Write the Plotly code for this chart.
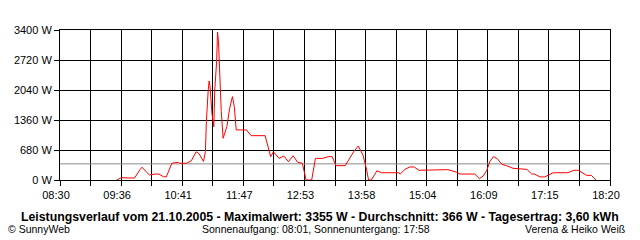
import plotly.graph_objects as go

# ---- data ----
times = ["09:31","09:36","09:43","09:50","09:56","09:58","10:03","10:06","10:12","10:16",
         "10:21","10:24","10:30","10:37","10:38","10:46","10:51","10:56","10:59","11:03",
         "11:04","11:06","11:07","11:09","11:10","11:11","11:12","11:13","11:15","11:16",
         "11:18","11:19","11:20","11:22","11:23","11:25","11:27","11:29","11:32","11:35",
         "11:37","11:39","11:50","11:55","12:10","12:13","12:16","12:19","12:25","12:30",
         "12:35","12:40","12:45","12:50","12:54","13:00","13:04","13:12","13:18","13:22",
         "13:26","13:36","13:45","13:50","13:55","13:59","14:01","14:04","14:10","14:15",
         "14:33","14:35","14:40","14:45","14:50","14:55","15:16","15:21","15:26","15:35",
         "15:39","15:55","16:00","16:04","16:08","16:11","16:15","16:19","16:24","16:29",
         "16:36","16:51","16:56","16:59","17:05","17:10","17:16","17:19","17:35","17:41",
         "17:46","17:51","17:55","18:00","18:05"]
power_w = [0, 55, 45, 45, 240, 290, 175, 115, 135, 135,
           75, 70, 380, 400, 380, 380, 440, 640, 600, 470,
           420, 650, 1320, 2040, 2245, 2115, 1700, 1510, 1210, 2040,
           2680, 3355, 3135, 2040, 1550, 945, 1060, 1210, 1625, 1890,
           1660, 1135, 1135, 1005, 1005, 755, 530, 640, 490, 545,
           415, 550, 400, 380, 0, 0, 490, 490, 530, 530,
           325, 325, 640, 770, 565, 225, 0, 0, 210, 165,
           165, 135, 240, 295, 295, 220, 220, 235, 235, 180,
           135, 135, 30, 90, 225, 415, 530, 485, 355, 325,
           265, 240, 135, 135, 70, 70, 135, 165, 165, 220,
           220, 150, 105, 105, 0]
average_w = 366
x_start, x_end = "08:30", "18:20"
x_tick_labels = ["08:30","09:36","10:41","11:47","12:53","13:58","15:04","16:09","17:15","18:20"]
y_tick_values = [0, 680, 1360, 2040, 2720, 3400]
y_tick_labels = ["0 W","680 W","1360 W","2040 W","2720 W","3400 W"]

title_text = ("Leistungsverlauf vom 21.10.2005 - Maximalwert: 3355 W - "
              "Durchschnitt: 366 W - Tagesertrag: 3,60 kWh")
left_note = "© SunnyWeb"
center_note = "Sonnenaufgang: 08:01, Sonnenuntergang: 17:58"
right_note = "Verena & Heiko Weiß"


def to_min(s):
    h, m = s.split(":")
    return int(h) * 60 + int(m)


x_min = [to_min(t) for t in times]
t0, t1 = to_min(x_start), to_min(x_end)
n_grid = 2 * (len(x_tick_labels) - 1)
step = (t1 - t0) / n_grid
tickvals = [t0 + i * step for i in range(n_grid + 1)]
ticktext = [x_tick_labels[i // 2] if i % 2 == 0 else "" for i in range(n_grid + 1)]

FONT = "Liberation Sans, Arial, sans-serif"

fig = go.Figure()
fig.add_trace(go.Scatter(x=[t0, t1], y=[average_w, average_w], mode="lines",
                         line=dict(color="#8c8c8c", width=1), hoverinfo="skip"))
fig.add_trace(go.Scatter(x=x_min, y=power_w, mode="lines",
                         line=dict(color="#ff0000", width=1)))

axis_common = dict(showline=True, linecolor="black", linewidth=1, mirror=True,
                   showgrid=True, gridcolor="black", gridwidth=1,
                   ticks="outside", ticklen=5, tickcolor="black", tickwidth=1,
                   zeroline=False, tickfont=dict(family=FONT, size=11, color="black"))

fig.update_xaxes(range=[t0, t1], tickmode="array", tickvals=tickvals, ticktext=ticktext,
                 ticklabelshift=-4, **axis_common)
fig.update_yaxes(range=[0, 3400], tickmode="array", tickvals=y_tick_values,
                 ticktext=y_tick_labels, **axis_common)

ann = []
ann.append(dict(text="<b>" + title_text + "</b>", x=(320 - 60) / 550, y=1 - (217 - 30) / 150,
                xanchor="center", yanchor="middle",
                font=dict(family=FONT, size=12.3, color="black")))
ann.append(dict(text=left_note, x=(6 - 60) / 550, y=1 - (228.5 - 30) / 150,
                xanchor="left", yanchor="middle",
                font=dict(family=FONT, size=10.5, color="black")))
ann.append(dict(text=center_note, x=(316 - 60) / 550, y=1 - (228.5 - 30) / 150,
                xanchor="center", yanchor="middle",
                font=dict(family=FONT, size=10.5, color="black")))
ann.append(dict(text=right_note, x=(627 - 60) / 550, y=1 - (228.5 - 30) / 150,
                xanchor="right", yanchor="middle",
                font=dict(family=FONT, size=10.5, color="black")))
for a in ann:
    a.update(xref="paper", yref="paper", showarrow=False)

fig.update_layout(width=640, height=240, margin=dict(l=60, r=30, t=30, b=60),
                  paper_bgcolor="white", plot_bgcolor="white", showlegend=False,
                  annotations=ann)

fig.write_html("out.html")
